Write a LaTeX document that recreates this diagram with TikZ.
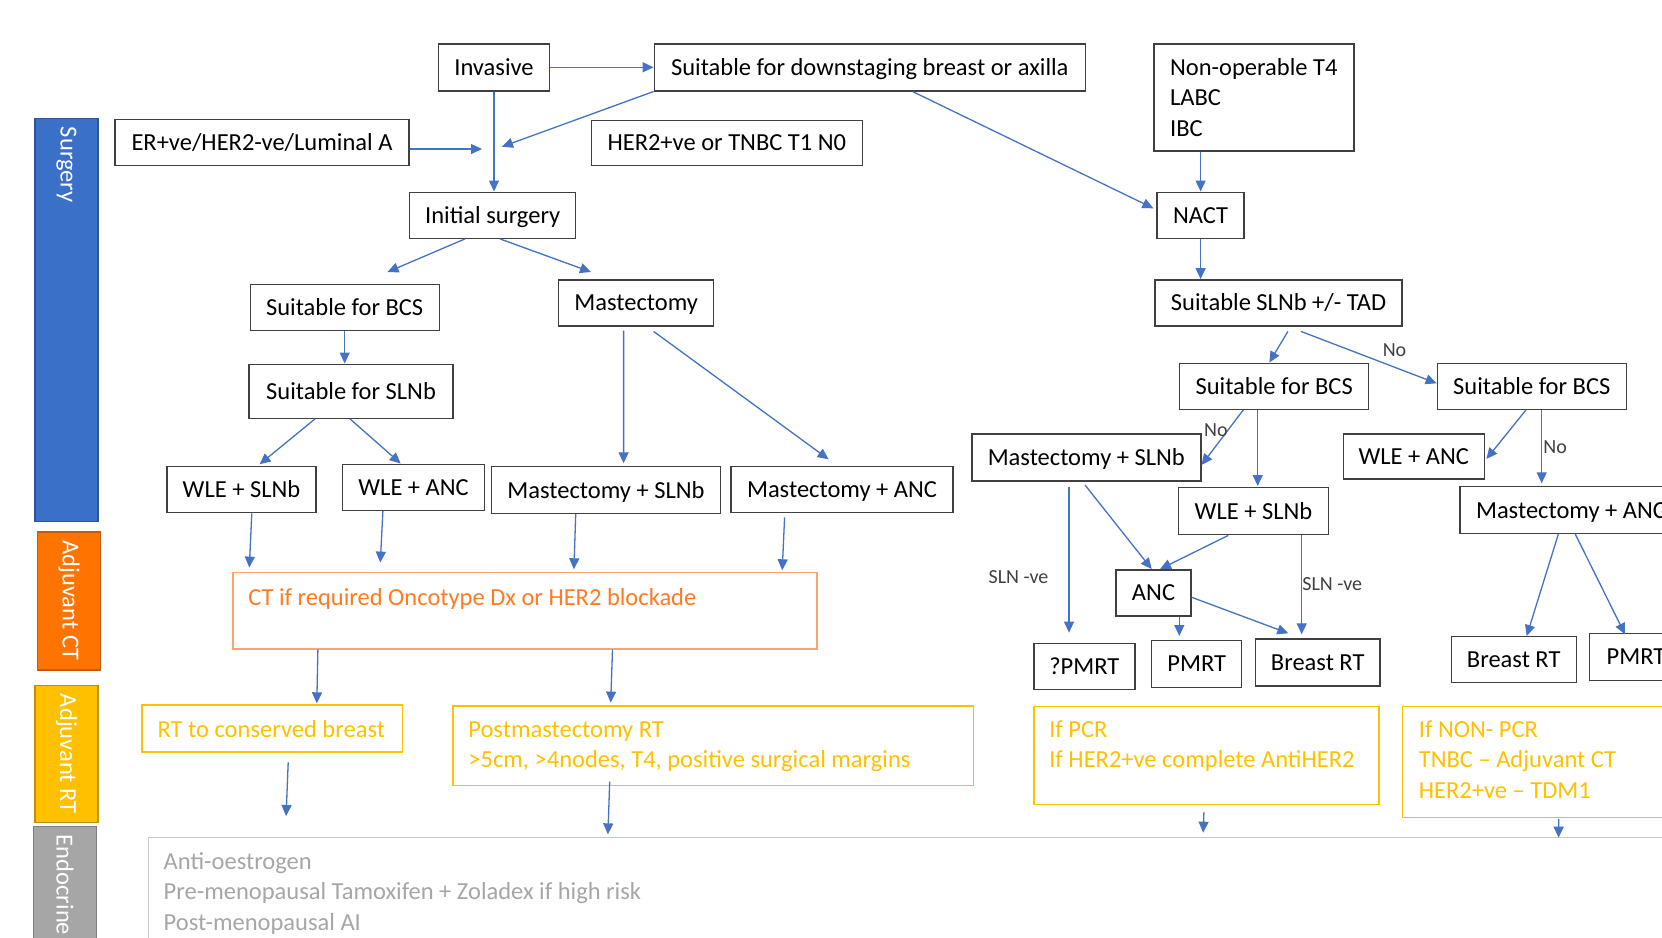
\documentclass[tikz,border=0pt]{standalone}
\usepackage{fontspec}
\setmainfont{Carlito}
\usetikzlibrary{arrows.meta,positioning}

\definecolor{lineblue}{HTML}{4472C4}
\definecolor{boxgray}{HTML}{404040}
\definecolor{surgblue}{HTML}{3A70C8}
\definecolor{surgblueD}{HTML}{2F5597}
\definecolor{ctorange}{HTML}{FF7300}
\definecolor{ctorangeD}{HTML}{C55A11}
\definecolor{ctline}{HTML}{F8A66B}
\definecolor{cttxt}{HTML}{FF7A22}
\definecolor{rtgold}{HTML}{FFC000}
\definecolor{rtgoldD}{HTML}{BF9000}
\definecolor{endogray}{HTML}{A6A6A6}
\definecolor{endograyD}{HTML}{7F7F7F}
\definecolor{endoline}{HTML}{C8C8C8}

\begin{document}
\begin{tikzpicture}[x=1pt,y=-1pt,
  font=\fontsize{24.5}{30.5}\selectfont,
  box/.style={draw=boxgray,line width=1.4pt,minimum height=46pt,inner sep=0pt,text height=20pt,text depth=4pt},
  arr/.style={draw=lineblue,line width=1.3pt,-{Triangle[length=11pt,width=10pt]}},
  lbl/.style={font=\fontsize{20}{24}\selectfont,text=boxgray,inner sep=0pt},
  bar/.style={line width=1.5pt,minimum width=63pt,inner sep=0pt},
  bartext/.style={rotate=-90,anchor=west,text=white,inner sep=0pt},
  ctbox/.style={draw=ctline,line width=1.4pt,inner sep=0pt},
  rtbox/.style={draw=rtgold,line width=1.4pt,inner sep=0pt},
  endobox/.style={draw=endoline,line width=1.4pt,inner sep=0pt},
  boxtext/.style={anchor=base west,inner sep=0pt,align=flush left,text width=#1}]

		\useasboundingbox (0,0) rectangle (1662,937);
		\clip (0,0) rectangle (1662,937);

		% side bars
		\node (surg) at (66.5,320) [bar,fill=surgblue,draw=surgblueD,minimum height=403pt] {};
		\node at ([yshift=-9pt]surg.north) [bartext] {Surgery};
		\node (adjct) at (69,601) [bar,fill=ctorange,draw=ctorangeD,minimum height=138pt] {};
		\node at ([yshift=-9pt]adjct.north) [bartext] {Adjuvant CT};
		\node (adjrt) at (66.5,754) [bar,fill=rtgold,draw=rtgoldD,minimum height=137pt] {};
		\node at ([yshift=-9pt]adjrt.north) [bartext] {Adjuvant RT};
		\node (endob) at (65,903) [bar,fill=endogray,draw=endograyD,minimum height=153pt] {};
		\node at ([yshift=-9pt]endob.north) [bartext] {Endocrine};

		% surgery
		\node (inv) at (494,67.3) [box,minimum width=111pt,minimum height=47pt] {Invasive};
		\node (down) at (869.8,67.3) [box,minimum width=431pt,minimum height=47pt] {Suitable for downstaging breast or axilla};
		\node (nonop) at (1253.8,97.4) [draw=boxgray,line width=1.4pt,minimum width=200pt,minimum height=107pt,inner sep=0pt,align=flush left] {Non-operable T4\\LABC\\IBC};
		\node (er) at (262,142.3) [box,minimum width=294pt] {ER+ve/HER2-ve/Luminal A};
		\node (her) at (726.8,142.7) [box,minimum width=271pt,minimum height=45pt] {HER2+ve or TNBC T1 N0};
		\node (init) at (492.7,215.2) [box,minimum width=166pt] {Initial surgery};
		\node (nact) at (1200.6,215.2) [box,minimum width=87pt] {NACT};
		\node (bcsL) at (344.7,307.2) [box,minimum width=189pt] {Suitable for BCS};
		\node (mast) at (636.2,302.8) [box,minimum width=155pt] {Mastectomy};
		\node (tad) at (1278.6,302.8) [box,minimum width=247pt] {Suitable SLNb +/- TAD};
		\node (slnb) at (351.1,391.2) [box,minimum width=204pt,minimum height=54pt] {Suitable for SLNb};
		\node (bcsM) at (1274.2,386.2) [box,minimum width=189pt] {Suitable for BCS};
		\node (bcsR) at (1531.8,386.2) [box,minimum width=189pt] {Suitable for BCS};
		\node (wsL) at (241.5,489.7) [box,minimum width=149pt] {WLE + SLNb};
		\node (waL) at (413.6,487.2) [box,minimum width=142pt] {WLE + ANC};
		\node (msL) at (606,490) [box,minimum width=229pt,minimum height=47pt] {Mastectomy + SLNb};
		\node (maL) at (842,489.7) [box,minimum width=222pt] {Mastectomy + ANC};
		\node (msR) at (1086.3,457.3) [box,minimum width=229pt,minimum height=47pt] {Mastectomy + SLNb};
		\node (waR) at (1413.7,456.5) [box,minimum width=141pt,minimum height=45pt] {WLE + ANC};
		\node (wsR) at (1253.5,511.2) [box,minimum width=150pt,minimum height=47pt] {WLE + SLNb};
		\node (maR) at (1571,510) [box,minimum width=222pt,minimum height=47pt] {Mastectomy + ANC};
		\node (anc) at (1153.5,592.8) [box,minimum width=75pt] {ANC};
		\node (qpm) at (1084.3,666.2) [box,minimum width=101pt] {?PMRT};
		\node (pm) at (1196.7,663.7) [box,minimum width=90pt,minimum height=47pt] {PMRT};
		\node (brt) at (1317.7,662.3) [box,minimum width=124.5pt,minimum height=47pt] {Breast RT};
		\node (brtR) at (1513.7,659.7) [box,minimum width=125pt] {Breast RT};
		\node (pmR) at (1636,656.8) [box,minimum width=93pt,minimum height=47pt] {PMRT};

		% adjuvant and endocrine
		\node (ct) at (524.85,610.85) [ctbox,minimum width=583.9pt,minimum height=76.3pt] {};
		\node at ([xshift=16pt,yshift=-33pt]ct.north west) [boxtext=560pt,text=cttxt] {CT if required Oncotype Dx or HER2 blockade};
		\node (rtc) at (272.3,728.5) [rtbox,minimum width=260.4pt,minimum height=47pt] {};
		\node at ([xshift=16pt,yshift=-33pt]rtc.north west) [boxtext=240pt,text=rtgold] {RT to conserved breast};
		\node (pmrt) at (713.05,745.85) [rtbox,minimum width=520.3pt,minimum height=79.7pt] {};
		\node at ([xshift=16pt,yshift=-32pt]pmrt.north west) [boxtext=500pt,text=rtgold] {Postmastectomy RT\\>5cm, >4nodes, T4, positive surgical margins};
		\node (pcr) at (1206.4,755.5) [rtbox,minimum width=345.2pt,minimum height=97.6pt] {};
		\node at ([xshift=16pt,yshift=-31.3pt]pcr.north west) [boxtext=320pt,text=rtgold] {If PCR\\If HER2+ve complete AntiHER2};
		\node (npcr) at (1551.2,762) [rtbox,minimum width=297.7pt,minimum height=110.6pt] {};
		\node at ([xshift=17pt,yshift=-31.3pt]npcr.north west) [boxtext=280pt,text=rtgold] {If NON- PCR\\TNBC – Adjuvant CT\\HER2+ve – TDM1};
		\node (endo) at (924.1,908.7) [endobox,minimum width=1551.8pt,minimum height=142.7pt] {};
		\node at ([xshift=16pt,yshift=-32.4pt]endo.north west) [boxtext=700pt,text=endogray] {Anti-oestrogen\\Pre-menopausal Tamoxifen + Zoladex if high risk\\Post-menopausal AI};

		% arrows
		\coordinate (merge) at (493,149);
		\draw[arr] (inv) -- (down);
		\draw[arr] (inv.south) -- (inv.south |- init.north);
		\draw[arr] ([yshift=-6.7pt]er.east) -- ([xshift=-11pt]merge);
		\draw[arr] (down.south west) -- ([xshift=9pt,yshift=2.3pt]merge);
		\draw[arr] ([xshift=42.7pt]down.south) -- ([xshift=-3pt,yshift=6.9pt]nact.west);
		\draw[arr] (nact.north |- nonop.south) -- (nact.north);
		\draw[arr] (nact.south) -- (nact.south |- tad.north);
		\draw[arr] ([xshift=-27.7pt]init.south) -- ([xshift=42.8pt,yshift=11.5pt]bcsL.north);
		\draw[arr] ([xshift=7.3pt]init.south) -- ([xshift=-45.2pt,yshift=7.1pt]mast.north);
		\draw[arr] (bcsL.south) -- (bcsL.south |- slnb.north);
		\draw[arr] ([xshift=-36.1pt]slnb.south) -- ([xshift=18.1pt,yshift=1.7pt]wsL.north);
		\draw[arr] ([xshift=-1.1pt]slnb.south) -- ([xshift=-12.9pt]waL.north);
		\draw[arr] ([xshift=-12.6pt,yshift=-4.2pt]mast.south) -- ([xshift=17.6pt,yshift=2.5pt]msL.north);
		\draw[arr] ([xshift=17.4pt,yshift=-4.9pt]mast.south) -- ([xshift=-13.4pt,yshift=6.7pt]maL.north);
		\draw[arr] ([xshift=9.3pt,yshift=-4.9pt]tad.south) -- ([xshift=-4.9pt]bcsM.north);
		\draw[arr] ([xshift=22.3pt,yshift=-4.9pt]tad.south) -- ([yshift=2.9pt]bcsR.west) node[lbl,pos=.69,above=10pt] {No};
		\draw[arr] ([xshift=-30.9pt]bcsM.south) -- ([yshift=-7.7pt]msR.east) node[lbl,pos=.36,left] {No};
		\draw[arr] ([xshift=-16.5pt]bcsM.south) -- ([xshift=4.2pt,yshift=1pt]wsR.north);
		\draw[arr] ([xshift=-5.8pt]bcsR.south) -- ([xshift=1.5pt,yshift=-2.5pt]waR.east);
		\draw[arr] ([xshift=9.9pt]bcsR.south) -- ([xshift=-29.3pt,yshift=2.5pt]maR.north) node[lbl,pos=.51,right=1pt] {No};
		\draw[arr] ([xshift=-17.3pt,yshift=-5.9pt]msR.south) -- ([xshift=-15.3pt,yshift=9.9pt]qpm.north) node[lbl,pos=.62,left=20pt] {SLN -ve};
		\draw[arr] ([xshift=-1.3pt,yshift=-3.5pt]msR.south) -- ([xshift=-1.8pt]anc.north);
		\draw[arr] ([xshift=-25.2pt]wsR.south) -- ([xshift=6.5pt]anc.north);
		\draw[arr] ([xshift=25.8pt]anc.south) -- ([xshift=-17.4pt,yshift=3.5pt]pm.north);
		\draw[arr] ([yshift=-4.5pt]anc.east) -- ([xshift=-29.4pt,yshift=4.8pt]brt.north);
		\draw[arr] ([xshift=48.2pt]wsR.south) -- ([xshift=-16pt,yshift=3.8pt]brt.north) node[lbl,pos=.49,right] {SLN -ve};
		\draw[arr] ([xshift=-12.7pt]maR.south) -- ([xshift=13pt]brtR.north);
		\draw[arr] ([xshift=4.3pt]maR.south) -- ([xshift=-11pt,yshift=-1.7pt]pmR.north);

		\draw[arr] ([xshift=10.3pt]wsL.south) -- ([xshift=17.1pt,yshift=4.4pt]ct.north west);
		\draw[arr] ([xshift=-30.7pt]waL.south) -- ([xshift=148.1pt,yshift=9.4pt]ct.north west);
		\draw[arr] ([xshift=-30.3pt]msL.south) -- ([xshift=341.7pt,yshift=2.7pt]ct.north west);
		\draw[arr] ([xshift=-57.4pt,yshift=-4pt]maL.south) -- ([xshift=550pt,yshift=1.7pt]ct.north west);
		\draw[arr] ([xshift=85.7pt]ct.south west) -- ([xshift=44.5pt,yshift=1pt]rtc.north);
		\draw[arr] ([xshift=380.3pt]ct.south west) -- ([xshift=158.5pt,yshift=2.7pt]pmrt.north west);
		\draw[arr] ([xshift=15.9pt,yshift=-9.7pt]rtc.south) -- ([xshift=138.6pt,yshift=20.6pt]endo.north west);
		\draw[arr] ([xshift=157.5pt,yshift=4.7pt]pmrt.south west) -- ([xshift=460.4pt,yshift=2.3pt]endo.north west);
		\draw[arr] ([xshift=-2.5pt,yshift=-7.4pt]pcr.south) -- ([xshift=1055.7pt,yshift=4pt]endo.north west);
		\draw[arr] ([xshift=157pt,yshift=-1pt]npcr.south west) -- ([xshift=1411.1pt,yshift=-1pt]endo.north west);

\end{tikzpicture}
\end{document}
